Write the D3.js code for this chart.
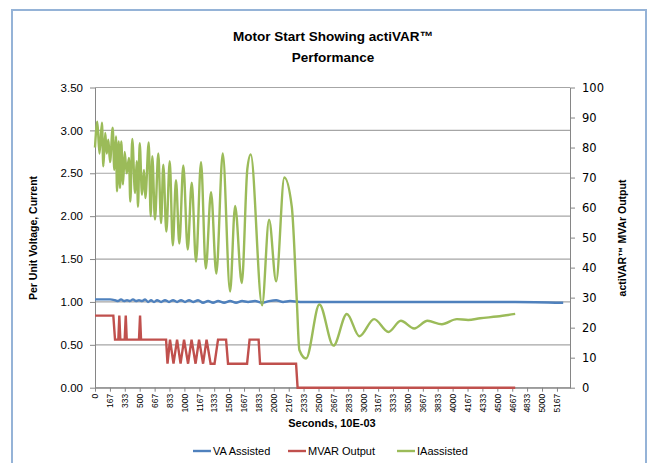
<!DOCTYPE html>
<html>
<head>
<meta charset="utf-8">
<script src="https://cdn.jsdelivr.net/npm/d3@7"></script>
<style>
body { margin: 0; background: #fff; }
text { font-family: 'Liberation Sans', Arial, sans-serif; fill: #000; }
.axis path, .axis line { stroke: #868686; }
</style>
</head>
<body>
<div id="chart"></div>
<script>
// times in ms
var iaTime = [0, 26, 50, 78, 93, 115, 131, 149, 168, 198, 216, 235, 246, 265, 280, 294, 313, 332, 355, 380, 395, 417, 448, 467, 481, 500, 526, 548, 563, 601, 623, 641, 671, 708, 739, 764, 798, 836, 870, 906, 943, 988, 1037, 1082, 1130, 1186, 1239, 1298, 1357, 1429, 1511, 1567, 1642, 1704, 1742, 1869, 1947, 2026, 2118, 2201, 2257, 2286, 2361, 2510, 2667, 2817, 2958, 3122, 3282, 3421, 3570, 3719, 3880, 4048, 4174, 4308, 4495, 4700];
var iaValue = [2.80, 3.10, 2.73, 3.09, 2.58, 2.97, 2.73, 2.89, 2.63, 3.03, 2.54, 2.93, 2.29, 2.87, 2.33, 2.87, 2.37, 2.75, 2.50, 2.68, 2.17, 2.90, 2.27, 2.64, 2.11, 2.85, 2.25, 2.54, 2.21, 2.86, 2.00, 2.70, 1.96, 2.73, 1.92, 2.60, 1.82, 2.64, 1.66, 2.42, 1.68, 2.59, 1.61, 2.39, 1.47, 2.63, 1.39, 2.28, 1.33, 2.73, 1.12, 2.12, 1.22, 2.55, 2.72, 0.96, 1.96, 1.24, 2.45, 2.11, 1.02, 0.44, 0.34, 0.97, 0.49, 0.86, 0.60, 0.80, 0.65, 0.78, 0.69, 0.78, 0.74, 0.80, 0.79, 0.81, 0.83, 0.86];

var vaTime = [0, 56, 112, 168, 224, 257, 291, 325, 358, 392, 425, 459, 492, 526, 560, 593, 627, 660, 694, 739, 783, 828, 873, 918, 962, 1007, 1052, 1097, 1153, 1209, 1265, 1321, 1377, 1444, 1511, 1578, 1645, 1712, 1790, 1869, 1947, 2026, 2104, 2182, 2294, 3413, 4700, 5237];
var vaValue = [1.03, 1.03, 1.03, 1.03, 1.02, 1.01, 1.03, 1.01, 1.02, 1.01, 1.03, 1.01, 1.02, 1.01, 1.03, 1.00, 1.02, 1.00, 1.02, 1.00, 1.02, 1.00, 1.02, 1.00, 1.02, 1.00, 1.02, 1.00, 1.02, 0.99, 1.01, 0.99, 1.01, 0.99, 1.01, 0.99, 1.01, 1.00, 1.01, 0.99, 1.01, 1.02, 1.00, 1.01, 1.00, 1.00, 1.00, 0.99];

var mvarTime = [0, 205, 224, 261, 272, 283, 332, 344, 355, 492, 504, 515, 795, 811, 839, 878, 918, 957, 996, 1041, 1080, 1125, 1164, 1209, 1248, 1293, 1337, 1376, 1466, 1488, 1701, 1729, 1830, 1846, 2249, 2266, 4700];
var mvarValue = [24, 24, 16, 16, 24, 16, 16, 24, 16, 16, 24, 16, 16, 8, 16, 8, 16, 8, 16, 8, 16, 8, 16, 8, 16, 8, 8, 16, 16, 8, 8, 16, 16, 8, 8, 0, 0];

var xTickLabels = ['0', '167', '333', '500', '667', '833', '1000', '1167', '1333', '1500', '1667', '1833', '2000', '2167', '2333', '2500', '2667', '2833', '3000', '3167', '3333', '3500', '3667', '3833', '4000', '4167', '4333', '4500', '4667', '4833', '5000', '5167'];
var leftTicks = [0, 0.5, 1, 1.5, 2, 2.5, 3, 3.5];
var rightTicks = [0, 10, 20, 30, 40, 50, 60, 70, 80, 90, 100];

var width = 649, height = 463;
var svg = d3.select('#chart').append('svg').attr('width', width).attr('height', height);

svg.append('rect').attr('x', 12).attr('y', 10).attr('width', 634).attr('height', 470)
    .attr('fill', '#fff').attr('stroke', '#95b3d7').attr('stroke-width', 2);

var x = d3.scaleLinear().domain([0, 5313]).range([95, 570]);
var yL = d3.scaleLinear().domain([0, 3.5]).range([387.7, 87.5]);
var yR = d3.scaleLinear().domain([0, 100]).range([387.7, 87.5]);

// gridlines
svg.append('g').selectAll('line').data(leftTicks).enter().append('line')
    .attr('x1', 95).attr('x2', 570).attr('y1', d => yL(d)).attr('y2', d => yL(d))
    .attr('stroke', '#a6a6a6').attr('stroke-width', 1.2);

// axes
var xAxis = svg.append('g').attr('class', 'axis').attr('transform', 'translate(0,387.7)')
    .call(d3.axisBottom(x).tickValues(xTickLabels.map(d => +d)).tickSize(4).tickSizeOuter(0).tickFormat(''));
xAxis.selectAll('.tick').append('text').text((d, i) => xTickLabels[i])
    .attr('transform', 'translate(0,6)rotate(-90)').attr('text-anchor', 'end').attr('dy', '0.33em')
    .style('font-size', '8.5px');

var lAxis = svg.append('g').attr('class', 'axis').attr('transform', 'translate(95,0)')
    .call(d3.axisLeft(yL).tickValues(leftTicks).tickFormat(d3.format('.2f')).tickSize(5).tickSizeOuter(0).tickPadding(7));
lAxis.selectAll('text').style('font-size', '11.5px').attr('font-family', 'Liberation Sans');

var rAxis = svg.append('g').attr('class', 'axis').attr('transform', 'translate(570,0)')
    .call(d3.axisRight(yR).tickValues(rightTicks).tickSize(5).tickSizeOuter(0).tickPadding(7));
rAxis.selectAll('text').style('font-size', '12px').style('font-family', 'DejaVu Sans').style('font-size', '11.5px');
svg.selectAll('.axis .domain').attr('stroke', '#868686');

// series
var smooth = d3.line().x(d => x(d[0])).y(d => yL(d[1])).curve(d3.curveMonotoneX);
var step = d3.line().x(d => x(d[0])).y(d => yR(d[1]));

svg.append('path').datum(vaTime.map((t, i) => [t, vaValue[i]])).attr('d', smooth)
    .attr('fill', 'none').attr('stroke', '#4f81bd').attr('stroke-width', 2.4);
svg.append('path').datum(mvarTime.map((t, i) => [t, mvarValue[i]])).attr('d', step)
    .attr('fill', 'none').attr('stroke', '#c0504d').attr('stroke-width', 2.4);
svg.append('path').datum(iaTime.map((t, i) => [t, iaValue[i]])).attr('d', smooth)
    .attr('fill', 'none').attr('stroke', '#9bbb59').attr('stroke-width', 2.4).attr('stroke-linejoin', 'round');

// titles
svg.append('text').attr('x', 333).attr('y', 41).attr('text-anchor', 'middle')
    .style('font-size', '13.5px').style('font-weight', 'bold').text('Motor Start Showing actiVAR™');
svg.append('text').attr('x', 333).attr('y', 62).attr('text-anchor', 'middle')
    .style('font-size', '13.5px').style('font-weight', 'bold').text('Performance');

svg.append('text').attr('transform', 'translate(37,238)rotate(-90)').attr('text-anchor', 'middle')
    .style('font-size', '10.5px').style('font-weight', 'bold').text('Per Unit Voltage, Current');
svg.append('text').attr('transform', 'translate(626,238)rotate(-90)').attr('text-anchor', 'middle')
    .style('font-size', '10.5px').style('font-weight', 'bold').text('actiVAR™ MVAr Output');
svg.append('text').attr('x', 332).attr('y', 427).attr('text-anchor', 'middle')
    .style('font-size', '11px').style('font-weight', 'bold').text('Seconds, 10E-03');

// legend
var legend = [['VA Assisted', '#4f81bd', 193], ['MVAR Output', '#c0504d', 288], ['IAassisted', '#9bbb59', 397]];
var lg = svg.append('g').selectAll('g').data(legend).enter().append('g')
    .attr('transform', d => `translate(${d[2]},451)`);
lg.append('line').attr('x1', 0).attr('x2', 18).attr('stroke', d => d[1]).attr('stroke-width', 2.4);
lg.append('text').attr('x', 20).attr('dy', '0.35em').style('font-size', '11px').text(d => d[0]);
</script>
</body>
</html>
